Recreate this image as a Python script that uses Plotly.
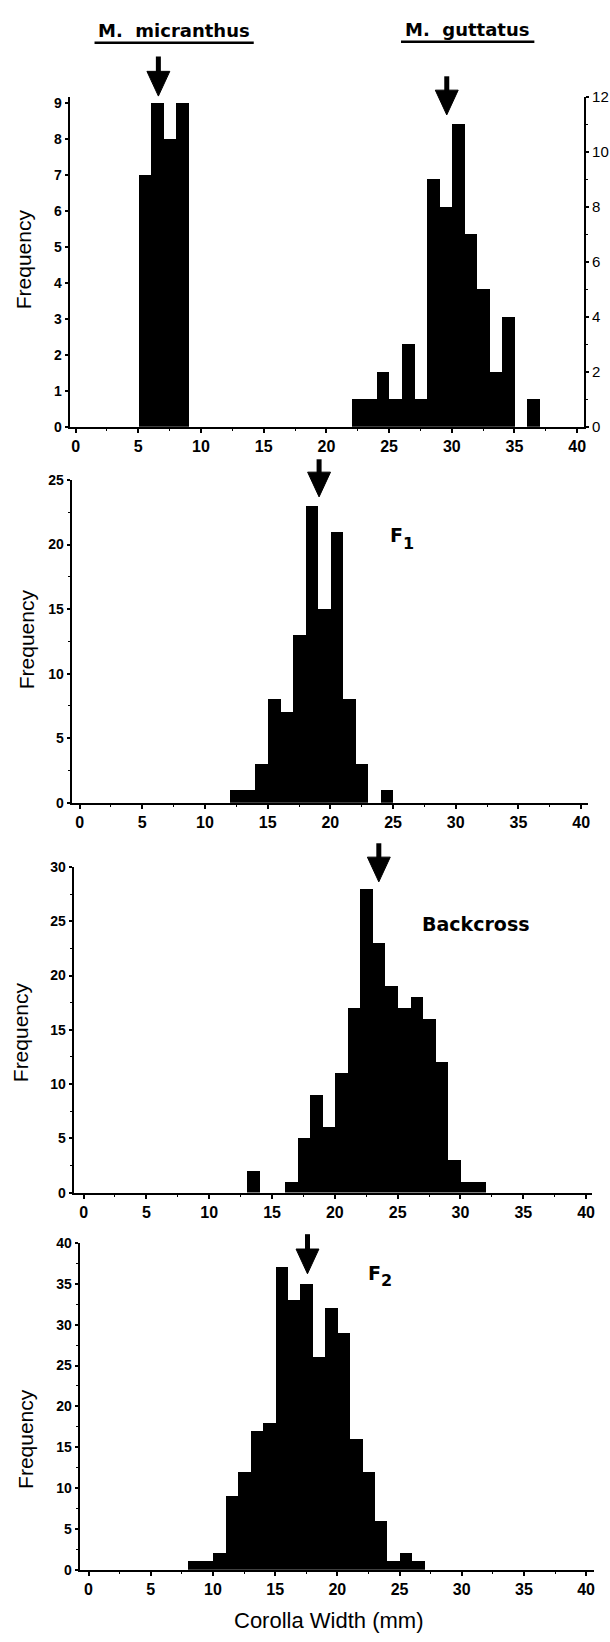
import plotly.graph_objects as go

W, H = 610, 1642

# ---------------- data (1 mm bins: left edge of each bin, count) ----------------
bin_width = 1.0
micranthus_bins = [5, 6, 7, 8]
micranthus_counts = [7, 9, 8, 9]
guttatus_bins = list(range(22, 37))
guttatus_counts = [1, 1, 2, 1, 3, 1, 9, 8, 11, 7, 5, 2, 4, 0, 1]
f1_bins = list(range(12, 25))
f1_counts = [1, 1, 3, 8, 7, 13, 23, 15, 21, 8, 3, 0, 1]
backcross_bins = list(range(13, 32))
backcross_counts = [2, 0, 0, 1, 5, 9, 6, 11, 17, 28, 23, 19, 17, 18, 16, 12, 3, 1, 1]
f2_bins = list(range(8, 27))
f2_counts = [1, 1, 2, 9, 12, 17, 18, 37, 33, 35, 26, 32, 29, 16, 12, 6, 1, 2, 1]

# means (arrows)
mean_micranthus = 6.6
mean_guttatus = 29.6
mean_f1 = 19.1
mean_backcross = 23.5
mean_f2 = 17.6

x_ticks = [0, 5, 10, 15, 20, 25, 30, 35, 40]
y_top_left_ticks = list(range(0, 10))
y_top_right_ticks = [0, 2, 4, 6, 8, 10, 12]
y_f1_ticks = [0, 5, 10, 15, 20, 25]
y_bc_ticks = [0, 5, 10, 15, 20, 25, 30]
y_f2_ticks = [0, 5, 10, 15, 20, 25, 30, 35, 40]

# ---------------- layout geometry (pixels) ----------------
panels = {
    "top": dict(l=70, r=587, t=89, b=422, x0=76, unit=12.6),
    "f1": dict(l=72, r=591, t=476, b=802, x0=80, unit=12.6),
    "bc": dict(l=74, r=595, t=867, b=1196, x0=84, unit=12.625),
    "f2": dict(l=80, r=597, t=1247, b=1577, x0=89, unit=12.5),
}

def xdom(p):
    return [p["l"] / W, p["r"] / W]

def ydom(p):
    return [1 - p["b"] / H, 1 - p["t"] / H]

def xrng(p):
    return [(p["l"] - p["x0"]) / p["unit"], (p["r"] - p["x0"]) / p["unit"]]

def py(v):
    return 1 - v / H

def px(v):
    return v / W

TICKFONT_X = dict(family="Liberation Sans, Arial", size=16, color="black", weight="bold")
TICKFONT_Y = dict(family="Liberation Sans, Arial", size=14, color="black", weight="bold")

def xaxis_cfg(p, anchor):
    return dict(
        domain=xdom(p), range=xrng(p), anchor=anchor,
        showline=True, linewidth=2, linecolor="black",
        ticks="outside", ticklen=4, tickwidth=1.5, tickcolor="black",
        tickvals=x_ticks, tickfont=TICKFONT_X,
        minor=dict(dtick=2.5, tick0=0, ticks="outside", ticklen=2, tickwidth=1.2, tickcolor="black"),
        showgrid=False, zeroline=False, fixedrange=True,
    )

def yaxis_cfg(p, anchor, rng, tickvals, minor_dtick=None):
    d = dict(
        domain=ydom(p), range=rng, anchor=anchor,
        showline=True, linewidth=2, linecolor="black",
        ticks="outside", ticklen=3, tickwidth=1.5, tickcolor="black",
        tickvals=tickvals, tickfont=TICKFONT_Y,
        showgrid=False, zeroline=False, fixedrange=True,
    )
    if minor_dtick:
        d["minor"] = dict(dtick=minor_dtick, tick0=0, ticks="outside", ticklen=2,
                          tickwidth=1.2, tickcolor="black")
    return d

fig = go.Figure()

def add_hist(bins, counts, xa, ya):
    # empty bins draw nothing, so only the non-empty ones are passed on
    xs = [b for b, c in zip(bins, counts) if c > 0]
    ys = [c for c in counts if c > 0]
    fig.add_trace(go.Bar(
        x=xs, y=ys, width=bin_width, offset=0,
        marker=dict(color="black", line=dict(width=0)),
        xaxis=xa, yaxis=ya, showlegend=False, hoverinfo="x+y",
    ))

add_hist(micranthus_bins, micranthus_counts, "x", "y")
add_hist(guttatus_bins, guttatus_counts, "x", "y2")
add_hist(f1_bins, f1_counts, "x2", "y3")
add_hist(backcross_bins, backcross_counts, "x3", "y4")
add_hist(f2_bins, f2_counts, "x4", "y5")

pt = panels["top"]
top_left_max = 9 * (pt["b"] - pt["t"]) / (pt["b"] - 95)

layout = dict(
    width=W, height=H,
    margin=dict(l=0, r=0, t=0, b=0),
    paper_bgcolor="white", plot_bgcolor="white",
    barmode="overlay", bargap=0,
    showlegend=False,
    xaxis=xaxis_cfg(panels["top"], "y"),
    yaxis=yaxis_cfg(panels["top"], "x", [0, top_left_max], y_top_left_ticks),
    yaxis2=dict(
        domain=ydom(pt), range=[0, 12], anchor="x", overlaying="y", side="right",
        showline=True, linewidth=2, linecolor="black",
        ticks="outside", ticklen=3, tickwidth=1.5, tickcolor="black",
        tickvals=y_top_right_ticks,
        tickfont=dict(family="Liberation Sans, Arial", size=15, color="black"),
        minor=dict(dtick=1, tick0=0, ticks="outside", ticklen=2, tickwidth=1.2, tickcolor="black"),
        showgrid=False, zeroline=False, fixedrange=True,
    ),
    xaxis2=xaxis_cfg(panels["f1"], "y3"),
    yaxis3=yaxis_cfg(panels["f1"], "x2", [0, 25], y_f1_ticks, 2.5),
    xaxis3=xaxis_cfg(panels["bc"], "y4"),
    yaxis4=yaxis_cfg(panels["bc"], "x3", [0, 30], y_bc_ticks, 2.5),
    xaxis4=xaxis_cfg(panels["f2"], "y5"),
    yaxis5=yaxis_cfg(panels["f2"], "x4", [0, 40], y_f2_ticks, 2.5),
)
fig.update_layout(**layout)

annotations = []
BOLD = dict(family="DejaVu Sans", size=18, color="black", weight="bold")
LABEL = dict(family="DejaVu Sans", size=19, color="black", weight="bold")
SUBL = dict(family="DejaVu Sans", size=16, color="black", weight="bold")

def note(text, x, y, font, xanchor="center", angle=0):
    annotations.append(dict(text=text, x=px(x), y=py(y), xref="paper", yref="paper",
                            showarrow=False, font=font, xanchor=xanchor, yanchor="middle",
                            textangle=angle))

# species titles
note("M.\u00a0\u00a0micranthus", 175, 22, BOLD)
note("M.\u00a0\u00a0guttatus", 469, 21, BOLD)

# panel labels (F with a subscript digit)
note("F", 390, 531, LABEL, "left")
note("1", 403, 540, SUBL, "left")
note("Backcross", 478, 925, LABEL)
note("F", 368, 1277, LABEL, "left")
note("2", 381, 1285, SUBL, "left")

# y titles
FREQ = dict(family="Liberation Sans, Arial", size=21, color="black")
for cx, cy in [(23, 253), (27, 637), (20, 1034), (25, 1445)]:
    note("Frequency", cx, cy, FREQ, angle=-90)

# x title
note("Corolla Width (mm)", 330, 1628, dict(family="Liberation Sans, Arial", size=22, color="black"))

fig.update_layout(annotations=annotations)

# ---------------- shapes: title underlines and mean arrows ----------------
shapes = [
    dict(type="line", xref="paper", yref="paper", x0=px(95), x1=px(255), y0=py(34), y1=py(34),
         line=dict(color="black", width=2.5)),
    dict(type="line", xref="paper", yref="paper", x0=px(403), x1=px(537), y0=py(33), y1=py(33),
         line=dict(color="black", width=2.5)),
]

# (mean, x-axis ref, panel, tip pixel y, shaft-top pixel y)
arrows = [
    (mean_micranthus, "x", "top", 88, 48),
    (mean_guttatus, "x", "top", 107, 68),
    (mean_f1, "x2", "f1", 493, 455),
    (mean_backcross, "x3", "bc", 882, 843),
    (mean_f2, "x4", "f2", 1278, 1238),
]
HEAD_LEN = 25   # px
HEAD_HALF = 11.5  # px
for m, xr, pk, tip, top in arrows:
    hw = HEAD_HALF / panels[pk]["unit"]
    base = tip - HEAD_LEN
    shapes.append(dict(type="line", xref=xr, yref="paper", x0=m, x1=m,
                       y0=py(top), y1=py(base + 2), line=dict(color="black", width=5)))
    shapes.append(dict(type="path", xref=xr, yref="paper",
                       path=f"M {m - hw},{py(base)} L {m + hw},{py(base)} L {m},{py(tip)} Z",
                       fillcolor="black", line=dict(color="black", width=1)))

fig.update_layout(shapes=shapes)

fig.write_html("out.html", config={"displayModeBar": False},
               post_script="document.body.style.margin='0px';document.body.style.overflow='hidden';")
